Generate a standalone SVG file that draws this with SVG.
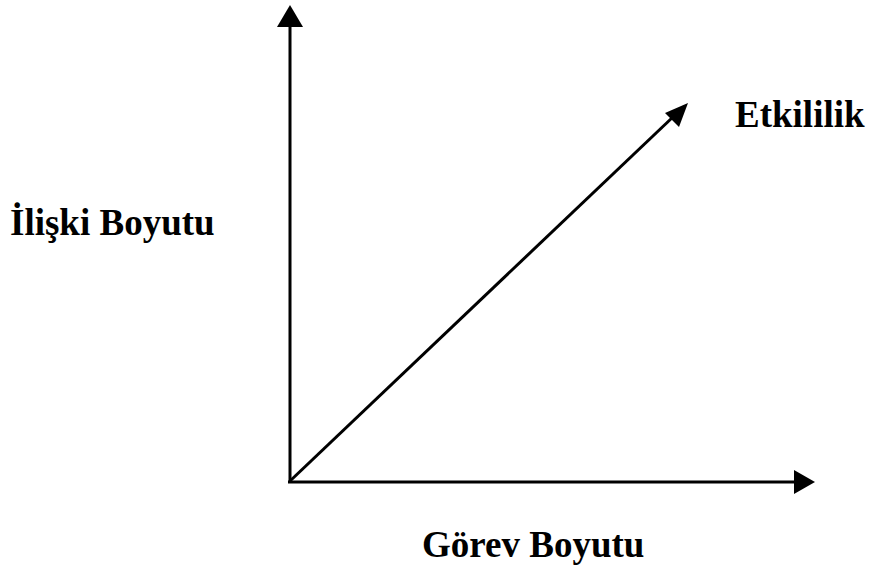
<svg xmlns="http://www.w3.org/2000/svg" width="869" height="572" viewBox="0 0 869 572">
<style>
.ax{stroke:#000;stroke-width:3;fill:none}
.hd{fill:#000}
text{font-family:"Liberation Serif","Times New Roman",serif;font-weight:bold;font-size:37px;fill:#000}
</style>
<rect width="869" height="572" fill="#fff"/>
<g id="connectors">
<line class="ax" x1="290" y1="482" x2="290" y2="24"/>
<polygon class="hd" points="290,5 277,27 303,27"/>
<line class="ax" x1="288" y1="482" x2="798" y2="482"/>
<polygon class="hd" points="815,482 794,470 794,494"/>
<line class="ax" x1="290" y1="481" x2="674" y2="116"/>
<polygon class="hd" points="688,103 665,113 679,127"/>
</g>
<g id="effectiveness"><text x="735" y="127">Etkililik</text></g>
<g id="relationship"><text x="10" y="235">İlişki Boyutu</text></g>
<g id="task"><text x="422" y="557">Görev Boyutu</text></g>
</svg>
